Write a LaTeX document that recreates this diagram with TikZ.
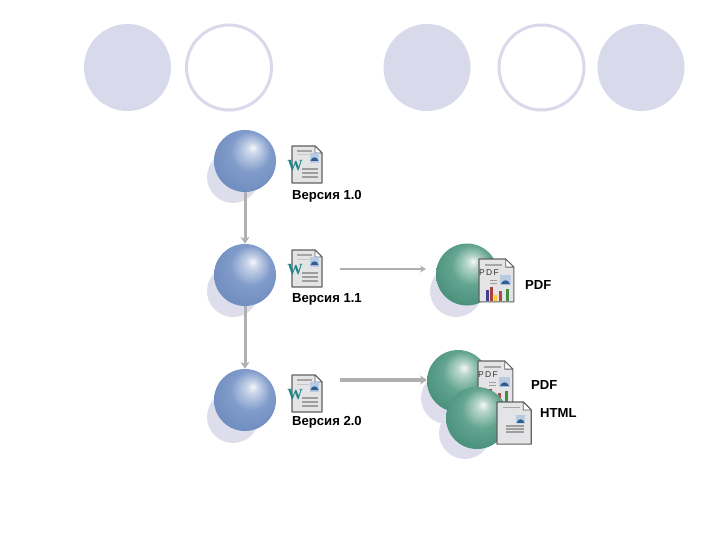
\documentclass[tikz,border=0pt]{standalone}
\usepackage{fontspec}
\setmainfont{Liberation Sans}
\newfontfamily\wordfont{Liberation Serif}
\usetikzlibrary{calc}
\usetikzlibrary{positioning}
\usetikzlibrary{arrows.meta}
\definecolor{slidelilac}{HTML}{D9D9EC}
\definecolor{shadowlilac}{HTML}{DDDDEC}
\definecolor{arrowgray}{HTML}{B0B0B0}
\definecolor{docgray}{HTML}{E4E4E6}
\definecolor{wordteal}{HTML}{1F8586}
\definecolor{pictblue}{HTML}{B9CBE0}
\definecolor{hillblue}{HTML}{2F5F90}
\definecolor{ballblue}{HTML}{819CCB}
\definecolor{balledge}{HTML}{6F8DBF}
\definecolor{ballgreen}{HTML}{62A48F}
\definecolor{greenedge}{HTML}{49917C}
\pgfdeclareradialshading{blueball}{\pgfpoint{6.5bp}{11bp}}{
  color(0bp)=(ballblue!8!white); color(5bp)=(ballblue!45!white);
  color(16bp)=(ballblue); color(30bp)=(balledge); color(50bp)=(balledge)}
\pgfdeclareradialshading{greenball}{\pgfpoint{5bp}{11bp}}{
  color(0bp)=(ballgreen!8!white); color(5bp)=(ballgreen!45!white);
  color(16bp)=(ballgreen); color(30bp)=(greenedge); color(50bp)=(greenedge)}
\tikzset{
  blueglobe/.style={circle, minimum size=62pt, inner sep=0pt, shading=blueball},
  greenglobe/.style={circle, minimum size=62pt, inner sep=0pt, shading=greenball},
  globeshadow/.style={circle, minimum size=52pt, inner sep=0pt, fill=shadowlilac},
  slidedot/.style={circle, minimum size=87pt, inner sep=0pt, fill=slidelilac},
  slidering/.style={circle, minimum size=85pt, inner sep=0pt, draw=slidelilac, line width=3pt, fill=white},
  flowarrow/.style={draw=arrowgray, line width=3pt, -{Stealth[length=7pt,width=9pt]}},
  doclabel/.style={anchor=west, inner sep=0pt, font=\fontsize{13.1}{13}\selectfont\bfseries},
  % sheet with folded corner, 30 x 37 from its upper left corner
  docsheet/.pic={
    \draw[draw=black!62, fill=docgray, line width=1.1pt] (0,0) -- (23,0) -- (30,7) -- (30,37) -- (0,37) -- cycle;
    \draw[draw=black!62, fill=white, line width=0.8pt] (23,0) -- (23,7) -- (30,7) -- cycle;
    \draw[black!35, line width=1.5pt] (5,5) -- (20,5);
  },
  wordfile/.pic={
    \pic {docsheet};
    \draw[black!22, line width=1pt] (5,9) -- (17,9);
    \fill[pictblue] (18,7) rectangle (27,17);
    \fill[hillblue] (18.5,15) .. controls (20,10) and (25,10) .. (26.5,15) -- cycle;
    \foreach \y in {23,27,31}{
      \draw[black!38, line width=1.1pt] (10,\y) -- (26,\y);
    }
    \node[inner sep=0pt, text=wordteal, font=\fontsize{15.5}{15}\selectfont\wordfont\bfseries] (-w) at (3,20) {W};
  },
  pdffile/.pic={
    \pic[scale=1.16] {docsheet};
    \node[inner sep=0pt, text=black!80, font=\fontsize{8.5}{8}\selectfont] (-p) at (10,14) {P\,D\,F};
    \fill[pictblue] (21,16) rectangle (32,26);
    \fill[hillblue] (22,25) .. controls (24,20) and (29,20) .. (31,25) -- cycle;
    \foreach \y in {21,24}{
      \draw[black!38, line width=1pt] (11,\y) -- (18,\y);
    }
    \fill[blue!40!black!75] (7,31) rectangle (10,42);
    \fill[red!55!black!75] (11,28) rectangle (14,42);
    \fill[orange!50!yellow!80!white] (15,36) rectangle (18,42);
    \fill[red!50!black!70] (20,32) rectangle (23,42);
    \fill[green!40!black!75] (27,30) rectangle (30,42);
  },
  htmlfile/.pic={
    \pic[scale=1.14] {docsheet};
    \fill[pictblue] (19,13) rectangle (28,21);
    \fill[hillblue] (19.5,21) .. controls (21,16) and (26,16) .. (27.5,21) -- cycle;
    \foreach \y in {24,27,30}{
      \draw[black!38, line width=1.1pt] (9,\y) -- (27,\y);
    }
  }
}
\begin{document}
\begin{tikzpicture}[x=1pt, y=-1pt, line join=round]
  \useasboundingbox[fill=white] (0,0) rectangle (720,540);
  % bullets along the top of the slide
  \foreach \name/\x in {dota/127.5, dotb/427, dotc/641}{
    \node[slidedot] (\name) at (\x,67.5) {};
  }
  \foreach \name/\x in {ringa/229, ringb/541.5}{
    \node[slidering] (\name) at (\x,67.5) {};
  }
  % shadows below the globes
  \foreach \name/\x/\y in {sha/233/177, shb/233/291, shc/233/417, shd/456/291, she/447/398, shf/465/433}{
    \node[globeshadow] (\name) at (\x,\y) {};
  }
  % versions
  \foreach \name/\y in {verone/161, vertwo/275, verthree/400}{
    \node[blueglobe] (\name) at (245,\y) {};
  }
  \draw[flowarrow] (verone) -- (vertwo);
  \draw[flowarrow] (vertwo) -- (verthree);
  \pic (fileone) at (292,146) {wordfile};
  \pic (filetwo) at (292,250) {wordfile};
  \pic (filethree) at (292,375) {wordfile};
  \node[doclabel] (labone) at (292,196) {Версия 1.0};
  \node[doclabel] (labtwo) at (292,299) {Версия 1.1};
  \node[doclabel] (labthree) at (292,422) {Версия 2.0};
  % outputs
  \coordinate (outa) at (340,269);
  \coordinate (ina) at (426,269);
  \coordinate (outb) at (340,380);
  \coordinate (inb) at (427,380);
  \draw[flowarrow, line width=2pt, -{Stealth[length=6pt,width=7pt]}] (outa) -- (ina);
  \draw[flowarrow, line width=3.5pt] (outb) -- (inb);
  \node[greenglobe] (pdfglobe) at (467,274.5) {};
  \pic (pdfone) at (479,259) {pdffile};
  \node[doclabel] (pdflab) at (525,285) {PDF};
  \node[greenglobe] (pdfglobeb) at (458,381) {};
  \pic (pdftwo) at (478,361) {pdffile};
  \node[greenglobe] (htmlglobe) at (477,418) {};
  \pic (htmlfile) at (497,402) {htmlfile};
  \node[doclabel] (pdflabb) at (531,385) {PDF};
  \node[doclabel] (htmllab) at (540,413) {HTML};
\end{tikzpicture}
\end{document}
